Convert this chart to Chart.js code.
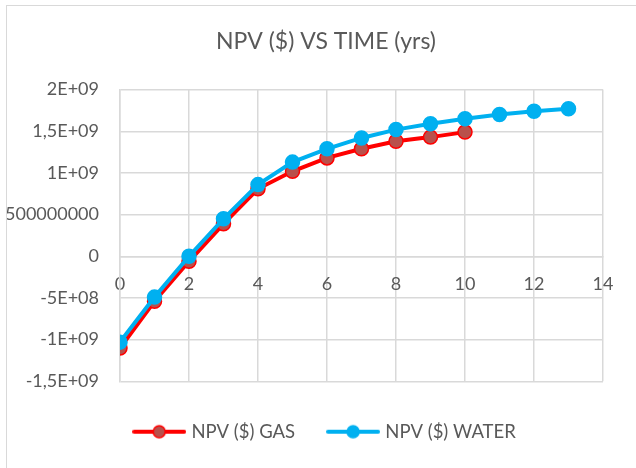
<!DOCTYPE html>
<html>
<head>
<meta charset="utf-8">
<script src="https://cdn.jsdelivr.net/npm/chart.js@4/dist/chart.umd.min.js"></script>
<style>
  html, body { margin: 0; padding: 0; background: #fff; overflow: hidden; }
  #frame {
    position: absolute; left: 6px; top: 5px; width: 700px; height: 500px;
    border-left: 1px solid #d9d9d9; border-top: 1px solid #d9d9d9;
    overflow: hidden;
  }
  #npvChart { position: absolute; left: -7px; top: -6px; }
</style>
</head>
<body>
<div id="frame"><canvas id="npvChart" width="652" height="468"></canvas></div>
<script>
const years = [0, 1, 2, 3, 4, 5, 6, 7, 8, 9, 10, 11, 12, 13];
const gasNpv = [-1.10e9, -0.54e9, -0.06e9, 0.39e9, 0.81e9, 1.02e9, 1.18e9, 1.29e9, 1.38e9, 1.43e9, 1.49e9];
const waterNpv = [-1.03e9, -0.49e9, 0.0, 0.45e9, 0.86e9, 1.13e9, 1.29e9, 1.42e9, 1.52e9, 1.59e9, 1.65e9, 1.70e9, 1.74e9, 1.77e9];

const seriesNames = ['NPV ($) GAS', 'NPV ($) WATER'];
const xTickLabels = ['0', '2', '4', '6', '8', '10', '12', '14'];
const yTickLabels = ['-1,5E+09', '-1E+09', '-5E+08', '0', '500000000', '1E+09', '1,5E+09', '2E+09'];

const textColor = '#595959';
const gridColor = '#d9d9d9';
const gas = { line: '#ff0000', fill: '#b9504b' };
const water = { line: '#00b0f0', fill: '#00b0f0' };

// little line+marker picture for the legend
function legendMark(c) {
    const cv = document.createElement('canvas');
    cv.width = 54;
    cv.height = 16;
    const g = cv.getContext('2d');
    g.strokeStyle = c.line;
    g.lineWidth = 4;
    g.lineCap = 'round';
    g.beginPath();
    g.moveTo(2, 8);
    g.lineTo(52, 8);
    g.stroke();
    g.beginPath();
    g.arc(27, 8, 6, 0, Math.PI * 2);
    g.fillStyle = c.fill;
    g.fill();
    g.lineWidth = 1.5;
    g.stroke();
    return cv;
}
const legendMarks = [legendMark(gas), legendMark(water)];

const ctx = document.getElementById('npvChart').getContext('2d');
const npvChart = new Chart(ctx, {
    type: 'line',
    data: {
        datasets: [
            {
                label: seriesNames[0],
                data: gasNpv.map((v, i) => ({ x: years[i], y: v })),
                borderColor: gas.line,
                backgroundColor: gas.fill,
                pointBackgroundColor: gas.fill,
                pointBorderColor: gas.line,
                borderWidth: 4,
                pointRadius: 7,
                pointBorderWidth: 1.5,
                order: 1
            },
            {
                label: seriesNames[1],
                data: waterNpv.map((v, i) => ({ x: years[i], y: v })),
                borderColor: water.line,
                backgroundColor: water.fill,
                pointBackgroundColor: water.fill,
                pointBorderColor: water.line,
                borderWidth: 4,
                pointRadius: 7,
                pointBorderWidth: 1.5,
                order: 0
            }
        ]
    },
    options: {
        responsive: false,
        animation: false,
        layout: { padding: { left: 0, right: 0, top: 0, bottom: 17 } },
        scales: {
            x: {
                type: 'linear',
                position: { y: 0 },
                min: 0,
                max: 14,
                grid: { color: gridColor, lineWidth: 1.5, drawTicks: false },
                border: { color: gridColor, width: 1.5 },
                ticks: {
                    stepSize: 2,
                    padding: 17,
                    color: textColor,
                    font: { family: 'Lato', size: 18 },
                    callback: (v, i) => xTickLabels[i]
                }
            },
            y: {
                min: -1.5e9,
                max: 2e9,
                grid: { color: gridColor, lineWidth: 1.5, drawTicks: false },
                border: { color: gridColor, width: 1.5 },
                ticks: {
                    stepSize: 5e8,
                    padding: 21,
                    color: textColor,
                    font: { family: 'Lato', size: 18 },
                    callback: (v, i) => yTickLabels[i]
                },
                afterFit: (scale) => { scale.width = 120; }
            },
            // empty right-hand axis, only keeps room on the right of the plot
            yRight: {
                position: 'right',
                grid: { display: false },
                border: { display: false },
                ticks: { display: false },
                afterFit: (scale) => { scale.width = 49; }
            }
        },
        plugins: {
            title: {
                display: true,
                text: 'NPV ($) VS TIME (yrs)',
                color: textColor,
                font: { family: 'Lato', size: 23, weight: 'normal' },
                padding: { top: 28, bottom: 34 }
            },
            legend: {
                position: 'bottom',
                title: { display: true, text: '', padding: { top: 5, bottom: 0 }, font: { size: 1 } },
                labels: {
                    usePointStyle: true,
                    pointStyleWidth: 46,
                    padding: 35,
                    color: textColor,
                    font: { family: 'Lato', size: 18.5 },
                    sort: (a, b) => a.datasetIndex - b.datasetIndex,
                    generateLabels: (chart) => {
                        const items = Chart.defaults.plugins.legend.labels.generateLabels(chart);
                        items.forEach(it => { it.pointStyle = legendMarks[it.datasetIndex]; });
                        return items;
                    }
                }
            },
            tooltip: { enabled: false }
        }
    }
});
</script>
</body>
</html>
